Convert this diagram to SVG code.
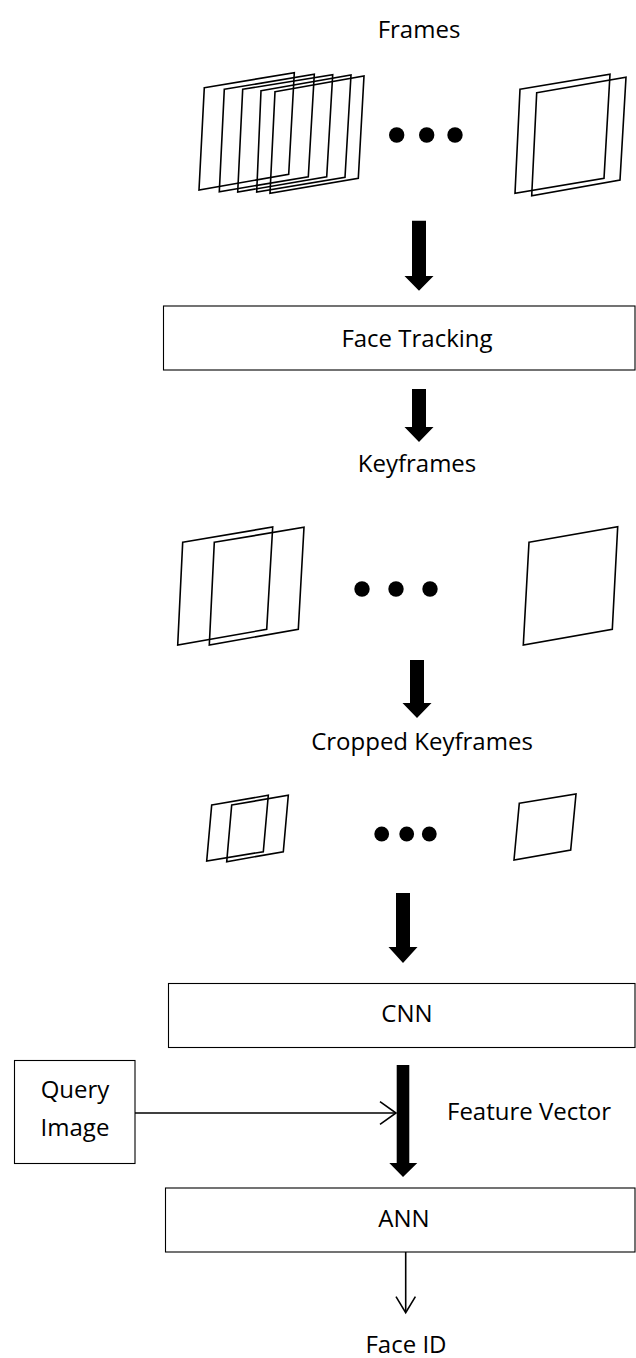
<svg xmlns="http://www.w3.org/2000/svg" width="636" height="1358" viewBox="0 0 636 1358">
<style>
.t{font-family:"Open Sans","Noto Sans","Liberation Sans",sans-serif;font-size:24px;fill:#000;}
.m{text-anchor:middle;}
.f{fill:none;stroke:#000;stroke-width:1.6;stroke-linejoin:miter;}
.b{fill:#fff;stroke:#000;stroke-width:1.1;}
.d{fill:#000;}
.a{fill:#000;stroke:none;}
.l{fill:none;stroke:#000;stroke-width:1.6;}
</style>
<rect width="636" height="1358" fill="#fff"/>
<g id="frames">
<text class="t m" x="419" y="38">Frames</text>
<polygon class="f" points="204.3,87.7 294.3,72.7 288.7,174.3 199,190"/>
<polygon class="f" points="224.3,89.3 314.3,74.3 308.3,176.7 219.3,191.7"/>
<polygon class="f" points="242.7,89.3 332.7,74.7 326.7,176.7 237.7,192"/>
<polygon class="f" points="261,90.7 351,75 345,177.3 256.7,192"/>
<polygon class="f" points="275,91.7 364,76 358.3,178.3 270,193.3"/>
<circle class="d" cx="396.7" cy="135" r="7.7"/>
<circle class="d" cx="426.7" cy="135" r="7.7"/>
<circle class="d" cx="455" cy="135" r="7.7"/>
<polygon class="f" points="520,89.3 610,74.3 604,178.3 515,193.3"/>
<polygon class="f" points="536.7,92.7 626,77.3 620,180 531.7,195.7"/>
</g>
<g id="face-tracking">
<rect class="b" x="163.5" y="306" width="471.5" height="64"/>
<text class="t m" x="417" y="347">Face Tracking</text>
</g>
<g id="keyframes">
<text class="t m" x="417" y="472">Keyframes</text>
<polygon class="f" points="182.7,542.3 272.7,527 266.7,629.3 177.7,645"/>
<polygon class="f" points="214.3,542.3 304,527.3 298.3,629.3 209.3,645"/>
<circle class="d" cx="362" cy="589" r="7.7"/>
<circle class="d" cx="396" cy="589" r="7.7"/>
<circle class="d" cx="430" cy="589" r="7.7"/>
<polygon class="f" points="529,542.3 617.7,526.7 612.3,629.3 523.3,645"/>
</g>
<g id="cropped-keyframes">
<text class="t m" x="422" y="750">Cropped Keyframes</text>
<polygon class="f" points="211.7,805 268.3,795.3 263.3,851.7 206.7,861"/>
<polygon class="f" points="231.7,805 288.3,795.3 283.3,851.7 226.7,861.7"/>
<circle class="d" cx="381.7" cy="834" r="7.4"/>
<circle class="d" cx="406.7" cy="834" r="7.4"/>
<circle class="d" cx="429.3" cy="834" r="7.4"/>
<polygon class="f" points="519.3,803.3 576,794 570.7,850 514,860"/>
</g>
<g id="cnn">
<rect class="b" x="168.5" y="983.5" width="466.5" height="64"/>
<text class="t m" x="407" y="1022">CNN</text>
</g>
<g id="query-image">
<rect class="b" x="14.5" y="1060.5" width="120.5" height="103"/>
<text class="t m" x="75" y="1098">Query</text>
<text class="t m" x="75" y="1136">Image</text>
</g>
<g id="ann">
<rect class="b" x="165.5" y="1188" width="469.5" height="64"/>
<text class="t m" x="404" y="1227">ANN</text>
</g>
<g id="face-id">
<text class="t m" x="406" y="1353">Face ID</text>
</g>
<g id="connectors">
<polygon class="a" points="412,220.7 426,220.7 426,276 433.5,276 419,290.7 404.5,276 412,276"/>
<polygon class="a" points="412,389 426,389 426,427 433.5,427 419,442 404.5,427 412,427"/>
<polygon class="a" points="410,660 424,660 424,703 431.5,703 417,718 402.5,703 410,703"/>
<polygon class="a" points="396,893 410,893 410,947 417.5,947 403,963 388.5,947 396,947"/>
<polygon class="a" points="396.7,1065 409.3,1065 409.3,1163 417.3,1163 403,1177 389.3,1163 396.7,1163"/>
<text class="t" x="447" y="1120">Feature Vector</text>
<line class="l" x1="135" y1="1113" x2="396" y2="1113"/>
<polyline class="l" points="380,1101.7 396,1113 380,1124.3"/>
<line class="l" x1="405.7" y1="1252" x2="405.7" y2="1312"/>
<polyline class="l" points="396,1296.7 405.7,1312.7 415.4,1296.7"/>
</g>
</svg>
